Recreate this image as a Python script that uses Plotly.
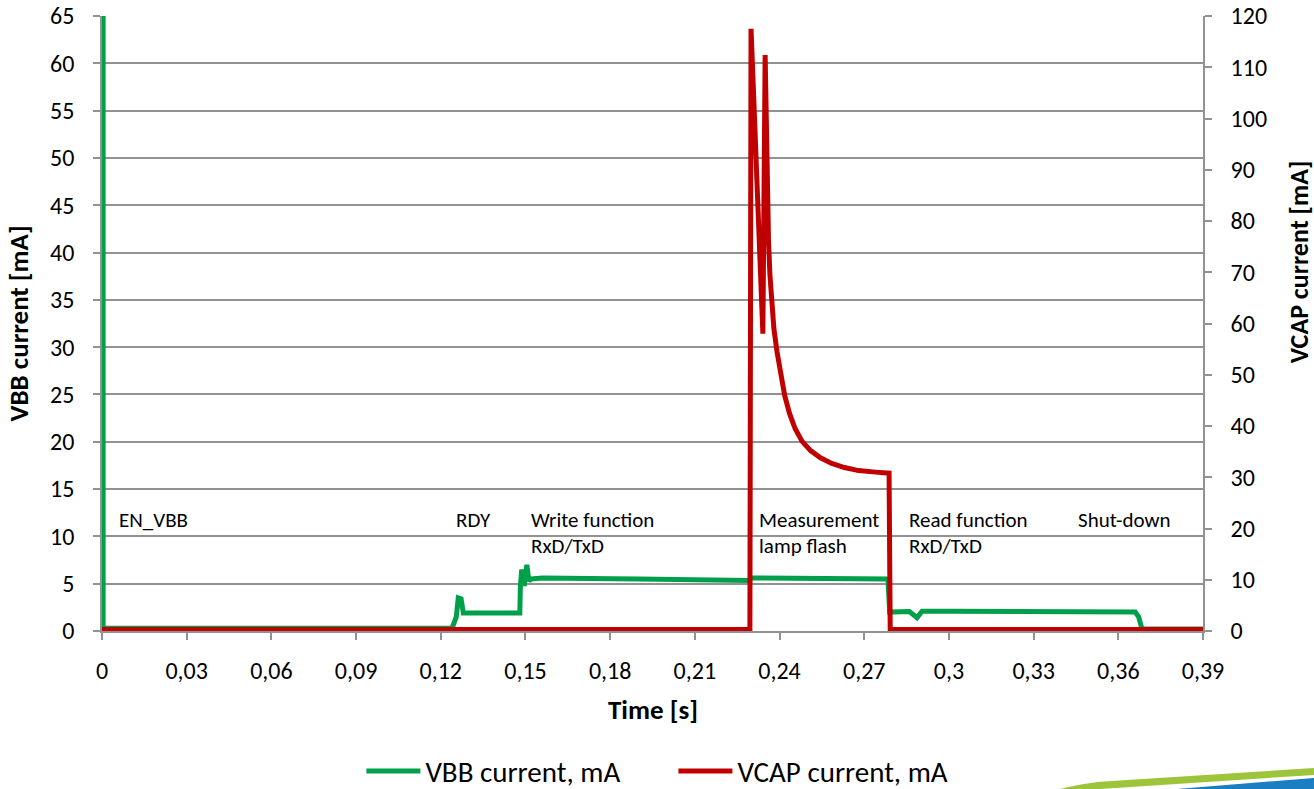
import plotly.graph_objects as go

# ---- data ----
vbb_t = [0.0004, 0.0004, 0.1240, 0.1255, 0.1262, 0.1272, 0.1280, 0.1285, 0.1480, 0.1482,
         0.1487, 0.1490, 0.1497, 0.1505, 0.1512, 0.1520, 0.1560, 0.1900, 0.2295, 0.2300,
         0.2600, 0.2784, 0.2790, 0.2810, 0.2860, 0.2887, 0.2905, 0.3000, 0.3300, 0.3660,
         0.3672, 0.3684, 0.3900]
vbb_ma = [70, 0.3, 0.3, 1.5, 3.5, 3.4, 1.9, 1.9, 1.9, 4.8,
          6.5, 5.0, 5.0, 7.0, 5.3, 5.5, 5.6, 5.5, 5.35, 5.6,
          5.6, 5.5, 2.0, 2.0, 2.05, 1.4, 2.1, 2.1, 2.0, 2.0,
          1.5, 0.2, 0.2]

vcap_t = [0.0, 0.2295, 0.2299, 0.2320, 0.2341, 0.2349, 0.2352, 0.2356, 0.2361, 0.2366,
          0.2372, 0.2380, 0.2391, 0.2403, 0.2418, 0.2435, 0.2455, 0.2480, 0.2510, 0.2545,
          0.2585, 0.2630, 0.2680, 0.2740, 0.2788, 0.2792, 0.3900]
vcap_ma = [0.3, 0.3, 117.5, 88, 58, 112.4, 100, 86, 76, 69.5,
           64, 59, 54.5, 50, 46, 42.5, 39.5, 37, 35.2, 33.8,
           32.7, 31.9, 31.3, 31.0, 30.8, 0.3, 0.3]

x_ticks = [0, 0.03, 0.06, 0.09, 0.12, 0.15, 0.18, 0.21, 0.24, 0.27, 0.30, 0.33, 0.36, 0.39]
x_tick_labels = ["0", "0,03", "0,06", "0,09", "0,12", "0,15", "0,18", "0,21", "0,24",
                 "0,27", "0,3", "0,33", "0,36", "0,39"]
left_ticks = list(range(0, 70, 5))
right_ticks = list(range(0, 130, 10))

phase_line1 = ["EN_VBB", "RDY", "Write function", "Measurement", "Read function", "Shut-down"]
phase_line2 = ["", "", "RxD/TxD", "lamp flash", "RxD/TxD", ""]
phase_t = [0.0053, 0.1248, 0.1514, 0.2320, 0.2851, 0.3450]
line1_y = 11.73
line2_y = 9.0

# ---- style ----
FONT = "Carlito, Lato, sans-serif"
GREEN = "#00A04B"
RED = "#C00000"
GRID = "#929292"
TICK = 24

fig = go.Figure()
fig.add_trace(go.Scatter(x=vbb_t, y=vbb_ma, mode="lines", name="VBB current, mA",
                         line=dict(color=GREEN, width=5), yaxis="y"))
fig.add_trace(go.Scatter(x=vcap_t, y=vcap_ma, mode="lines", name="VCAP current, mA",
                         line=dict(color=RED, width=5), yaxis="y2"))

annotations = []
for l1, l2, t in zip(phase_line1, phase_line2, phase_t):
    annotations.append(dict(x=t, y=line1_y, xref="x", yref="y", text=l1, showarrow=False,
                            xanchor="left", yanchor="middle", align="left",
                            font=dict(family=FONT, size=21, color="#000")))
    if l2:
        annotations.append(dict(x=t, y=line2_y, xref="x", yref="y", text=l2, showarrow=False,
                                xanchor="left", yanchor="middle", align="left",
                                font=dict(family=FONT, size=21, color="#000")))

# axis titles
annotations += [
    dict(x=-0.0754, y=0.5, xref="paper", yref="paper", text="<b>VBB current [mA]</b>",
         textangle=-90, showarrow=False, xanchor="center", yanchor="middle",
         font=dict(family=FONT, size=27)),
    dict(x=1.0875, y=0.6, xref="paper", yref="paper", text="<b>VCAP current [mA]</b>",
         textangle=-90, showarrow=False, xanchor="center", yanchor="middle",
         font=dict(family=FONT, size=26)),
    dict(x=0.5, y=-0.127, xref="paper", yref="paper", text="<b>Time [s]</b>",
         showarrow=False, xanchor="center", yanchor="middle",
         font=dict(family=FONT, size=27)),
]

shapes = [
    dict(type="path", xref="paper", yref="paper",
         path="M 0.870,-0.2569 Q 0.89,-0.2480 0.9064,-0.2450 L 1.1008,-0.2228 L 1.1008,-0.2341 L 0.9064,-0.2569 Z",
         fillcolor="#9DC53B", line=dict(width=0), layer="above"),
    dict(type="path", xref="paper", yref="paper",
         path="M 0.9764,-0.2569 L 1.1008,-0.2390 L 1.1008,-0.2569 Z",
         fillcolor="#1B7EC2", line=dict(width=0), layer="above"),
]

axis_common = dict(zeroline=False, showline=True, linecolor=GRID, linewidth=1.5,
                   ticks="outside", ticklen=7, tickcolor=GRID, tickwidth=1.5,
                   automargin=False, ticklabeloverflow="allow",
                   tickfont=dict(family=FONT, size=TICK))

fig.update_layout(
    width=1314, height=789,
    margin=dict(l=102, r=111, t=16, b=158, autoexpand=False),
    paper_bgcolor="white", plot_bgcolor="white",
    font=dict(family=FONT, size=TICK, color="#000"),
    showlegend=True,
    legend=dict(orientation="h", x=0.519, xanchor="center", y=-0.228, yanchor="middle",
                font=dict(family=FONT, size=29), itemwidth=54, entrywidth=243,
                tracegroupgap=0, bgcolor="rgba(0,0,0,0)"),
    xaxis=dict(range=[0, 0.39], tickvals=x_ticks, ticktext=x_tick_labels, showgrid=False,
               ticklabelstandoff=10, **axis_common),
    yaxis=dict(range=[0, 65], tickvals=left_ticks, showgrid=True, gridcolor=GRID, gridwidth=1.8,
               ticklabelstandoff=14, **axis_common),
    yaxis2=dict(range=[0, 120], tickvals=right_ticks, overlaying="y", side="right",
                showgrid=False, ticklabelstandoff=14, **axis_common),
    annotations=annotations,
    shapes=shapes,
)

# remove the page's default 8px body margin so the figure fills the window exactly
fig.write_html("out.html", config={"displayModeBar": False},
               post_script="document.body.style.margin='0px';")
